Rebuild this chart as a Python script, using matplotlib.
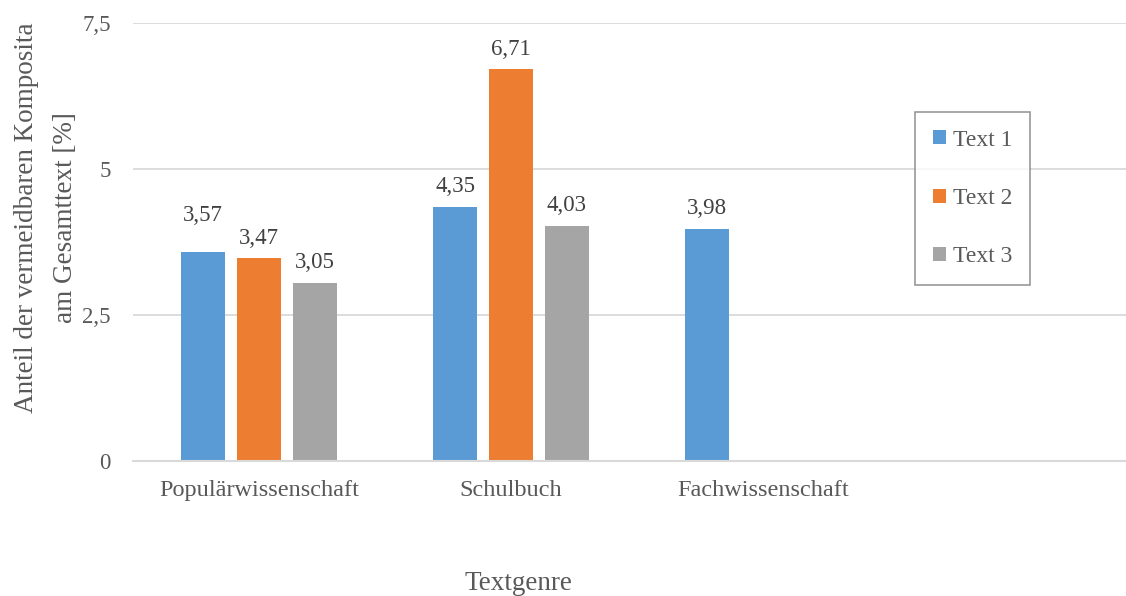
import matplotlib.pyplot as plt
import numpy as np

# chart data
genres = ["Populärwissenschaft", "Schulbuch", "Fachwissenschaft", ""]
series = ["Text 1", "Text 2", "Text 3"]
text1 = [3.57, 4.35, 3.98, np.nan]
text2 = [3.47, 6.71, np.nan, np.nan]
text3 = [3.05, 4.03, np.nan, np.nan]
yticks = [0, 2.5, 5, 7.5]
ytick_labels = ["0", "2,5", "5", "7,5"]

colors = ["#5b9bd5", "#ed7d31", "#a5a5a5"]
txt = "#595959"
grid = "#d9d9d9"

plt.rcParams["font.family"] = ["Liberation Serif", "DejaVu Serif"]
plt.rcParams["font.size"] = 16

fig = plt.figure(figsize=(11.26, 5.96), dpi=100)
ax = fig.add_axes([133 / 1126, 1 - 460.7 / 596, 1008 / 1126, 437.4 / 596])

x = np.arange(len(genres))
offsets = [-0.222, 0.0, 0.222]
width = 0.173
# extra lift (points) for labels that Excel moved to avoid overlap
nudge = {(0, 0): 12}

for i, (name, vals) in enumerate(zip(series, [text1, text2, text3])):
    vals = np.array(vals, dtype=float)
    ax.bar(x + offsets[i], vals, width, color=colors[i], label=name, zorder=3)
    for j, v in enumerate(vals):
        if np.isnan(v):
            continue
        ax.annotate(("%.2f" % v).replace(".", ","), (x[j] + offsets[i], v),
                    xytext=(0, 7 + nudge.get((i, j), 0)), textcoords="offset points",
                    ha="center", va="bottom", color="#404040", fontsize=16.5)

ax.set_xlim(-0.5, len(genres) - 0.5)
ax.set_ylim(0, 7.5)
ax.set_yticks(yticks)
ax.set_yticklabels(ytick_labels)
ax.set_xticks(x)
ax.set_xticklabels(genres)
ax.tick_params(axis="both", length=0, colors=txt)
ax.tick_params(axis="y", pad=16, labelsize=16.5)
ax.tick_params(axis="x", pad=14, labelsize=17.5)
ax.yaxis.grid(True, color=grid, linewidth=1.3, zorder=0)
for s in ["top", "right", "left"]:
    ax.spines[s].set_visible(False)
ax.spines["bottom"].set_color(grid)
ax.spines["bottom"].set_linewidth(1.5)
ax.spines["bottom"].set_zorder(4)

fig.text(518 / 1126, 1 - 583 / 596, "Textgenre", ha="center", va="center",
         color=txt, fontsize=19.5)
fig.text(33 / 1126, 1 - 218 / 596, "Anteil der vermeidbaren Komposita",
         rotation=90, rotation_mode="anchor", ha="center", va="baseline",
         color=txt, fontsize=19.5)
fig.text(72 / 1126, 1 - 218 / 596, "am Gesamttext [%]",
         rotation=90, rotation_mode="anchor", ha="center", va="baseline",
         color=txt, fontsize=19.5)

leg = fig.legend(loc="upper left", bbox_to_anchor=(915 / 1126, 1 - 112 / 596),
                 frameon=True, fancybox=False, handlelength=0.55, handleheight=0.55,
                 handletextpad=0.3, labelspacing=1.58, borderpad=0.75,
                 borderaxespad=0, fontsize=17)
leg.get_frame().set_edgecolor("#7f7f7f")
leg.get_frame().set_linewidth(1.2)
for t in leg.get_texts():
    t.set_color(txt)

fig.savefig("out.png", dpi=100)
